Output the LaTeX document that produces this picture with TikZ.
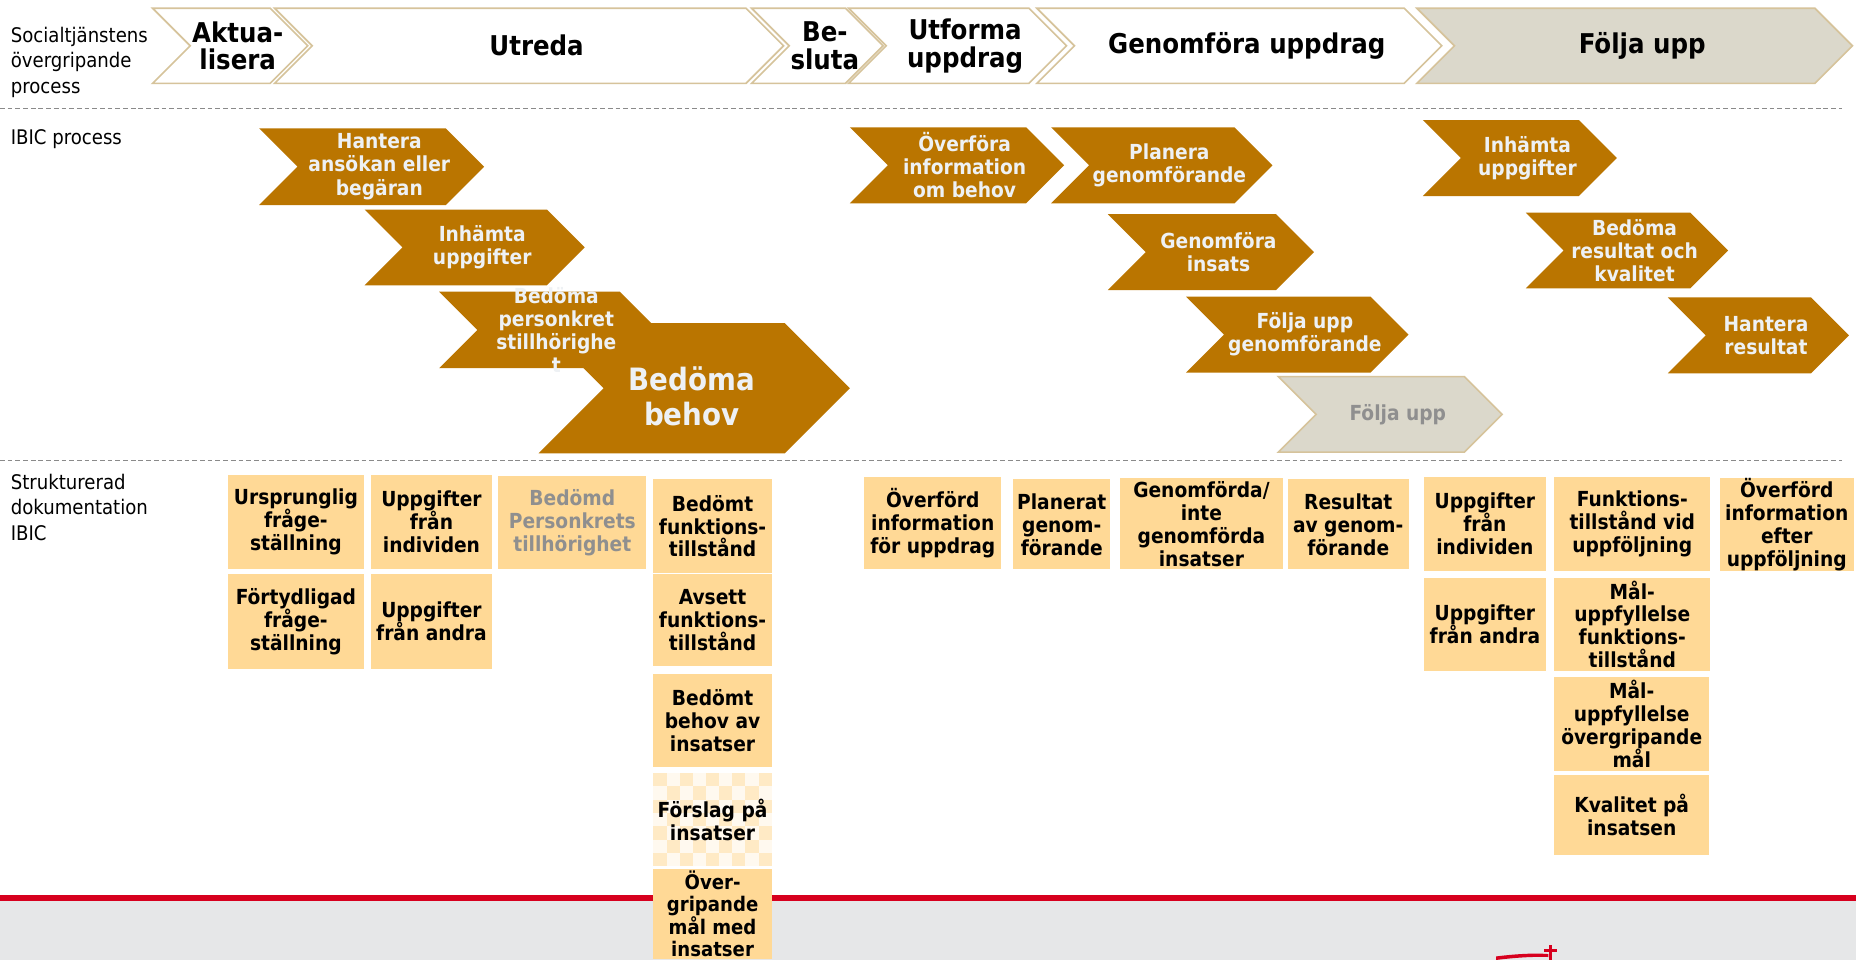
\documentclass[tikz,border=0pt]{standalone}
\usepackage{fontspec}
\setmainfont{DejaVu Sans Condensed}
\usepackage{tikz}
\definecolor{IbicOrange}{RGB}{186,117,0}
\definecolor{IbicText}{RGB}{238,241,244}
\definecolor{ProcTan}{RGB}{214,195,155}
\definecolor{ProcGrey}{RGB}{219,216,203}
\definecolor{DocFill}{RGB}{255,217,150}
\definecolor{DocGrey}{RGB}{143,143,143}
\definecolor{SepGrey}{RGB}{138,138,138}
\definecolor{FootRed}{RGB}{215,0,30}
\definecolor{FootGrey}{RGB}{230,231,232}

\newcommand{\chev}[7][ibic]{%
  \pgfmathsetmacro\chd{(#6-#5)/2}%
  \pgfmathsetmacro\chm{(#6+#5)/2}%
  \path[#1] (#3,#5) -- ({#4-\chd},#5) -- (#4,\chm) -- ({#4-\chd},#6)
    -- (#3,#6) -- ({#3+\chd},\chm) -- cycle;
  \node[#1 txt] (#2) at ({(#3+#4)/2+\chd/5},\chm) {#7};
}

\begin{document}
\begin{tikzpicture}[x=1pt,y=-1pt,
  proc/.style={fill=white,draw=ProcTan,line width=1.4pt},
  proc txt/.style={inner sep=0pt,align=center,font=\bfseries\fontsize{23}{23.5}\selectfont},
  procend/.style={proc,fill=ProcGrey},
  procend txt/.style={proc txt},
  ibic/.style={fill=IbicOrange},
  ibic txt/.style={inner sep=0pt,align=center,text=IbicText,font=\bfseries\fontsize{17.5}{19.5}\selectfont},
  ibicbig/.style={ibic},
  ibicbig txt/.style={ibic txt,font=\bfseries\fontsize{26}{30}\selectfont,xshift=-13pt,yshift=-7pt},
  ibicend/.style={proc,fill=ProcGrey},
  ibicend txt/.style={ibic txt,text=DocGrey},
  doc/.style n args={2}{fill=DocFill,minimum width=#1pt,minimum height=#2pt,inner sep=0pt,align=center,font=\bfseries\fontsize{17.5}{19.4}\selectfont},
  rowlabel/.style={anchor=north west,inner sep=0pt,align=left,font=\fontsize{17}{21.8}\selectfont},
  sepline/.style={draw=SepGrey,line width=1.2pt,dash pattern=on 4pt off 2.5pt}]
  \useasboundingbox (0,0) rectangle (1568,811);
  \fill[white] (0,0) rectangle (1568,811);

  \node[rowlabel] (lblproc) at (9,22.5) {Socialtjänstens\\övergripande\\process};
  \node[rowlabel] (lblibic) at (9,109) {IBIC process};
  \node[rowlabel] (lbldoc) at (9,400) {Strukturerad\\dokumentation\\IBIC};

  \draw[sepline] (0,91.5) -- (1556,91.5);
  \draw[sepline] (0,389) -- (1556,389);

  \chev[proc]{aktualisera}{129}{260}{7}{70.4}{Aktua-\\lisera}
  \chev[proc]{utreda}{232}{662}{7}{70.4}{Utreda}
  \chev[proc]{besluta}{635}{746}{7}{70.4}{Be-\\sluta}
  \chev[proc]{utforma}{717}{901}{7}{70.4}{Utforma\\uppdrag}
  \chev[proc]{genomfora}{876}{1218}{7}{70.4}{Genomföra uppdrag}
  \chev[procend]{foljaupp}{1197}{1565}{7}{70.4}{Följa upp}

  \chev[ibicbig]{bedomabehov}{455}{718}{273}{383}{Bedöma\\behov}
  \chev{hantera}{219}{409}{108.4}{173.2}{Hantera\\ansökan eller\\begäran}
  \chev{inhamta}{308}{494}{177}{241}{Inhämta\\uppgifter}
  \chev{personkrets}{371}{556}{246.4}{311}{Bedöma\\personkret\\stillhörighe\\t}
  \chev{overfora}{718}{899}{107.6}{171.8}{Överföra\\information\\om behov}
  \chev{planera}{888}{1075}{107.6}{171.8}{Planera\\genomförande}
  \chev{genomforainsats}{936}{1110}{181}{245}{Genomföra\\insats}
  \chev{foljagenomf}{1002}{1190}{250.6}{314.8}{Följa upp\\genomförande}
  \chev[ibicend]{foljauppibic}{1080}{1269}{318.2}{382}{Följa upp}
  \chev{inhamtaupp}{1202}{1366}{101.4}{165.6}{Inhämta\\uppgifter}
  \chev{bedomaresultat}{1289}{1460}{179.7}{243.6}{Bedöma\\resultat och\\kvalitet}
  \chev{hanteraresultat}{1409}{1562}{251.2}{315.4}{Hantera\\resultat}

  \node[doc={115}{79}](ursprunglig) at(250,441) {Ursprunglig\\fråge-\\ställning};
  \node[doc={115}{80}](fortydligad) at(250,525) {Förtydligad\\fråge-\\ställning};
  \node[doc={102}{79}](uppgind) at(364.5,441) {Uppgifter\\från\\individen};
  \node[doc={102}{80}](uppgandra) at(364.5,525) {Uppgifter\\från andra};
  \node[doc={125}{79},text=DocGrey](personkretsdoc) at(483.5,441.5) {Bedömd\\Personkrets\\tillhörighet};
  \node[doc={100}{79}](bedomtfunk) at(602,444.5) {Bedömt\\funktions-\\tillstånd};
  \node[doc={100}{78}](avsettfunk) at(602,524) {Avsett\\funktions-\\tillstånd};
  \node[doc={100}{79}](bedomtbehov) at(602,608.5) {Bedömt\\behov av\\insatser};
  \foreach \i in {0,...,8} {
    \foreach \j in {0,...,6} {
      \pgfmathtruncatemacro\chk{mod(\i+\j,2)}
      \ifnum\chk=0
        \fill[DocFill!55] ({552+\i*11.111},{653+\j*11.286}) rectangle ++(11.111,11.286);
      \else
        \fill[DocFill!15] ({552+\i*11.111},{653+\j*11.286}) rectangle ++(11.111,11.286);
      \fi
    }
  }
  \node[doc={100}{79},fill=none](forslag) at(602,692.5) {Förslag på\\insatser};
  \node[doc={116}{78}](overfuppdrag) at(788,442) {Överförd\\information\\för uppdrag};
  \node[doc={82}{76}](planerat) at(897,443) {Planerat\\genom-\\förande};
  \node[doc={138}{77}](genomforda) at(1015,442.5) {Genomförda/\\inte\\genomförda\\insatser};
  \node[doc={102}{76}](resultat) at(1139,443) {Resultat\\av genom-\\förande};
  \node[doc={103}{79}](uppgindupp) at(1254.5,442.5) {Uppgifter\\från\\individen};
  \node[doc={103}{79}](uppgandraupp) at(1254.5,527.5) {Uppgifter\\från andra};
  \node[doc={132}{79}](funkuppf) at(1379,442.5) {Funktions-\\tillstånd vid\\uppföljning};
  \node[doc={132}{79}](malfunk) at(1379,527.5) {Mål-\\uppfyllelse\\funktions-\\tillstånd};
  \node[doc={131}{79}](malovergr) at(1378.5,611.5) {Mål-\\uppfyllelse\\övergripande\\mål};
  \node[doc={131}{67}](kvalitet) at(1378.5,688.5) {Kvalitet på\\insatsen};
  \node[doc={113}{78}](overfefter) at(1509.5,443) {Överförd\\information\\efter\\uppföljning};

  \fill[FootGrey] (0,761) rectangle (1568,811);
  \fill[FootRed] (0,756.5) rectangle (1568,761.5);
  \fill[FootRed] (1264,808) .. controls (1280,806) and (1296,805) .. (1308,806)
    -- (1308,808.5) .. controls (1296,808) and (1280,809) .. (1264,811) -- cycle;
  \fill[FootRed] (1308.5,798) rectangle (1311.5,811);
  \fill[FootRed] (1304.5,801.5) rectangle (1315.5,804.5);

  \node[doc={100}{76},font=\bfseries\fontsize{17}{18.4}\selectfont](overgripande) at(602,772) {Över-\\gripande\\mål med\\insatser};
\end{tikzpicture}
\end{document}
